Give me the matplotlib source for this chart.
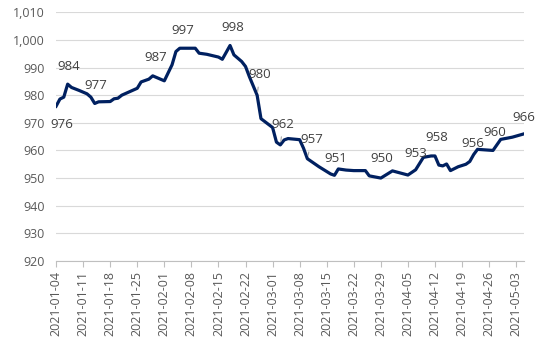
import datetime as dt
import matplotlib
matplotlib.use('Agg')
from matplotlib import pyplot as plt
import matplotlib.dates as mdates
from matplotlib.ticker import FuncFormatter, MultipleLocator

plt.rcParams['font.family'] = ['Open Sans', 'DejaVu Sans']

# serie (dias contados a partir de 2021-01-04)
inicio = dt.date(2021, 1, 4)
dias = [0, 1, 2, 3, 4, 6, 8, 9, 10, 11, 14, 15, 16, 17, 21, 22, 24, 25, 26, 28,
        30, 31, 32, 36, 37, 39, 42, 43, 45, 46, 48, 49, 50, 52, 53, 56, 57, 58,
        59, 60, 63, 64, 65, 68, 71, 72, 73, 75, 77, 80, 81, 84, 87, 91, 93, 95,
        97, 98, 99, 100, 101, 102, 104, 106, 107, 108, 109, 113, 115, 118, 121]
valores = [976, 978.6, 979.3, 984, 982.8, 981.7, 980.5, 979.3, 977, 977.6,
           977.7, 978.7, 978.9, 980.0, 982.5, 984.8, 985.8, 987, 986.4, 985.2,
           991.0, 995.8, 997, 997.0, 995.2, 994.8, 993.8, 993.0, 998, 994.6,
           992.2, 990.4, 986.7, 980, 971.5, 968.3, 963.0, 962, 963.8, 964.3,
           963.9, 960.8, 957, 954.1, 951.5, 951, 953.3, 952.9, 952.7, 952.7,
           950.8, 950, 952.6, 951.1, 953, 957.5, 958.0, 958, 954.7, 954.4,
           955.1, 952.7, 954.1, 955.0, 956, 958.5, 960.4, 960, 964.0, 964.8, 966]
datas = [inicio + dt.timedelta(days=d) for d in dias]

# pontos com rotulo: (indice, deslocamento x, deslocamento y, linha guia)
rotulos = [(0, 4, -13, False), (3, 1, 13, False), (8, 1, 13, False),
           (17, 2, 13, False), (22, 2, 13, False), (28, 2, 13, False),
           (33, 2, 15, True), (37, 2, 15, True), (42, 3, 14, True),
           (45, 1, 12, False), (51, 1, 14, False), (54, 0, 12, False),
           (57, 1, 13, False), (64, 2, 13, False), (67, 1, 13, False),
           (70, 0, 12, False)]

fig = plt.figure(figsize=(5.39, 3.42), dpi=100)
ax = fig.add_axes([0.104, 0.237, 0.868, 0.727])

ax.plot(datas, valores, color='#002060', linewidth=2.3, solid_joinstyle='round')

for i, dx, dy, guia in rotulos:
    seta = None
    if guia:
        seta = dict(arrowstyle='-', color='#a6a6a6', lw=0.8,
                    shrinkA=2.5, shrinkB=2.5)
    ax.annotate(f'{valores[i]:.0f}', (datas[i], valores[i]), xytext=(dx, dy),
                textcoords='offset points', ha='center', va='center',
                fontsize=9.5, color='#404040', arrowprops=seta)

ax.set_ylim(920, 1010)
ax.yaxis.set_major_locator(MultipleLocator(10))
ax.yaxis.set_major_formatter(FuncFormatter(lambda v, p: f'{v:,.0f}'))
ax.set_xlim(inicio, inicio + dt.timedelta(days=121.3))
ticks = [inicio + dt.timedelta(days=7 * k) for k in range(18)]
ax.set_xticks(ticks)
ax.xaxis.set_major_formatter(mdates.DateFormatter('%Y-%m-%d'))
plt.setp(ax.get_xticklabels(), rotation=90)

ax.grid(axis='y', color='#d9d9d9', linewidth=0.8)
ax.set_axisbelow(True)
for lado in ['top', 'right', 'left']:
    ax.spines[lado].set_visible(False)
ax.spines['bottom'].set_color('#bfbfbf')
ax.spines['bottom'].set_linewidth(0.8)
ax.tick_params(axis='x', direction='out', length=4, color='#bfbfbf',
               labelsize=9, labelcolor='#595959', pad=3)
ax.tick_params(axis='y', length=0, labelsize=9, labelcolor='#595959', pad=8)

plt.savefig('out.png', dpi=100)
plt.close()
